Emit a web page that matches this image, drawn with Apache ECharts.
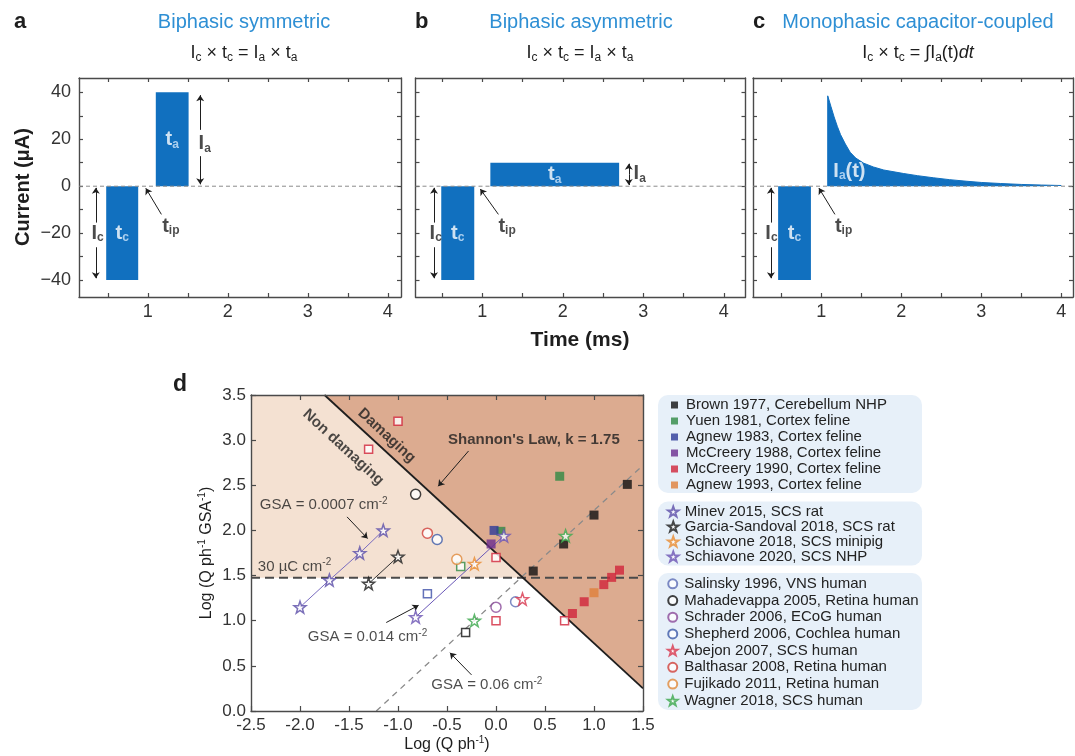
<!DOCTYPE html>
<html>
<head>
<meta charset="utf-8">
<title>Stimulation waveforms and Shannon plot</title>
<script src="https://cdn.jsdelivr.net/npm/echarts@6.0.0/dist/echarts.min.js"></script>
<style>
html, body { margin: 0; padding: 0; background: #fff; }
#chart { width: 1075px; height: 756px; }
</style>
</head>
<body>
<div id="chart"></div>
<script>
const FONT = '"Liberation Sans", Arial, Helvetica, sans-serif';
const PULSE_BLUE = '#1170bf';
const TITLE_BLUE = '#2e8fd4';
const INK = '#1e1e1e';
const AXIS = '#4a4a4a';

// ---------- a–c: pulse waveforms (time in ms, current in µA) ----------
const timeTicks = [0.5, 1, 1.5, 2, 2.5, 3, 3.5, 4];
const timeLabels = [1, 2, 3, 4];
const currentTicks = [-40, -30, -20, -10, 0, 10, 20, 30, 40];
const currentLabels = [-40, -20, 0, 20, 40];

// phases as [start ms, end ms, amplitude µA]
const symCathodic = [0.48, 0.88, -40];
const symAnodic = [1.1, 1.51, 40];
const asymCathodic = [0.49, 0.9, -40];
const asymAnodic = [1.1, 2.7, 10];
const capCathodic = [0.46, 0.87, -40];
// passive capacitor discharge after the interphase gap, [ms, µA]
const capDischarge = [[1.08, 38.5], [1.12, 34], [1.16, 29.5], [1.2, 25.5], [1.24, 22], [1.3, 18], [1.36, 14.5],
  [1.43, 12], [1.53, 9.8], [1.65, 8.2], [1.78, 6.9], [2.03, 5.4], [2.2, 4.5], [2.4, 3.6], [2.6, 2.8],
  [2.82, 2.1], [3.0, 1.6], [3.24, 1.15], [3.5, 0.75], [3.75, 0.5], [4.0, 0.3]];

// ---------- d: Shannon plot, log(Q/ph) vs log(Q/ph/GSA) ----------
const shannonK = 1.75;
const chargeDensityLimit = 30;     // µC cm-2
const gsaReference = 0.06;         // cm2, dashed iso-area line

const brown1977 = [[0.38, 1.55], [0.69, 1.85], [1.0, 2.17], [1.34, 2.51]];
const brown1977Safe = [[-0.31, 0.87]];
const yuen1981 = [[0.05, 1.99], [0.65, 2.6]];
const yuen1981Safe = [[-0.36, 1.6]];
const agnew1983 = [[-0.02, 2.0]];
const agnew1983Safe = [[-0.7, 1.3]];
const mccreery1988 = [[-0.05, 1.85]];
const mccreery1990 = [[0.78, 1.08], [0.9, 1.21], [1.1, 1.4], [1.18, 1.48], [1.26, 1.56]];
const mccreery1990Safe = [[-1.3, 2.9], [-1.0, 3.21], [0.0, 1.7], [0.0, 1.0], [0.7, 1.0]];
const agnew1993 = [[1.0, 1.31]];
const minev2015 = [[-2.0, 1.15], [-1.7, 1.45], [-1.39, 1.75], [-1.15, 2.0]];
const garcia2018 = [[-1.3, 1.41], [-1.0, 1.71]];
const schiavone2018 = [[-0.22, 1.63]];
const schiavone2020 = [[-0.82, 1.04], [0.08, 1.94]];
const salinsky1996 = [[0.2, 1.21]];
const mahadevappa2005 = [[-0.82, 2.4]];
const schrader2006 = [[0.0, 1.15]];
const shepherd2006 = [[-0.6, 1.9]];
const abejon2007 = [[0.27, 1.24]];
const balthasar2008 = [[-0.7, 1.97]];
const fujikado2011 = [[-0.4, 1.68]];
const wagner2018 = [[-0.22, 1.0], [0.71, 1.94]];

const STAR = 'path://M50,0L61.76,33.82L97.55,34.55L69.02,56.18L79.39,90.45L50,70L20.61,90.45L30.98,56.18L2.45,34.55L38.24,33.82Z';
const SQUARE = 'path://M0,0H10V10H0Z';

// ---------- layout ----------
const grids = [
  { left: 79, top: 78, width: 322, height: 219 },
  { left: 415.5, top: 78, width: 330, height: 219 },
  { left: 753, top: 78, width: 320, height: 219 },
  { left: 251, top: 395, width: 392, height: 316 }
];
const timeRanges = [[0.14, 4.165], [0.17, 4.27], [0.146, 4.146]];
const currentRange = [-47.2, 46.1];
const dX = [-2.5, 1.5], dY = [0, 3.5];

const xAxes = [], yAxes = [];
const lineStyleAxis = { color: AXIS, width: 1.4 };
const tickStyle = { color: AXIS, width: 1.2 };
const minus = v => (v < 0 ? '\u2212' + (-v) : String(v));

function pulseFrame(g) {
  const base = { type: 'value', gridIndex: g, z: 5, splitLine: { show: false },
    axisLine: { show: true, onZero: false, lineStyle: lineStyleAxis } };
  const xt = { show: true, inside: true, length: 4, lineStyle: tickStyle, customValues: timeTicks };
  const yt = { show: true, inside: true, length: 4, lineStyle: tickStyle, customValues: currentTicks };
  xAxes.push(Object.assign({}, base, { position: 'bottom', min: timeRanges[g][0], max: timeRanges[g][1], axisTick: xt,
    axisLabel: { show: true, customValues: timeLabels, fontSize: 18, color: '#333', margin: 6, fontFamily: FONT } }));
  xAxes.push(Object.assign({}, base, { position: 'top', min: timeRanges[g][0], max: timeRanges[g][1], axisTick: xt,
    axisLabel: { show: false } }));
  yAxes.push(Object.assign({}, base, { position: 'left', min: currentRange[0], max: currentRange[1], axisTick: yt,
    axisLabel: { show: g === 0, customValues: currentLabels, formatter: minus, fontSize: 18, color: '#333', margin: 8, fontFamily: FONT } }));
  yAxes.push(Object.assign({}, base, { position: 'right', min: currentRange[0], max: currentRange[1], axisTick: yt,
    axisLabel: { show: false } }));
}
[0, 1, 2].forEach(pulseFrame);

(function shannonFrame() {
  const base = { type: 'value', gridIndex: 3, z: 5, splitLine: { show: false }, interval: 0.5,
    axisLine: { show: true, onZero: false, lineStyle: lineStyleAxis },
    axisTick: { show: true, inside: true, length: 5, lineStyle: tickStyle } };
  const lbl = { show: true, fontSize: 17, color: '#333', fontFamily: FONT, formatter: v => v.toFixed(1) };
  xAxes.push(Object.assign({}, base, { position: 'bottom', min: dX[0], max: dX[1], axisLabel: Object.assign({ margin: 6 }, lbl) }));
  xAxes.push(Object.assign({}, base, { position: 'top', min: dX[0], max: dX[1], axisLabel: { show: false } }));
  yAxes.push(Object.assign({}, base, { position: 'left', min: dY[0], max: dY[1], axisLabel: Object.assign({ margin: 5 }, lbl) }));
  yAxes.push(Object.assign({}, base, { position: 'right', min: dY[0], max: dY[1], axisLabel: { show: false } }));
})();

// ---------- rich text styles ----------
const rich = {
  bk: { fontFamily: FONT, fontSize: 20, fontWeight: 'bold', color: INK, lineHeight: 22 },
  bks: { fontFamily: FONT, fontSize: 12, fontWeight: 'bold', color: INK, lineHeight: 10, verticalAlign: 'bottom' },
  wt: { fontFamily: FONT, fontSize: 20, fontWeight: 'bold', color: '#fff', lineHeight: 22 },
  wts: { fontFamily: FONT, fontSize: 12, fontWeight: 'bold', color: '#cfe6fb', lineHeight: 10, verticalAlign: 'bottom' },
  tx: { fontFamily: FONT, fontSize: 15, color: INK, lineHeight: 18 },
  txb: { fontFamily: FONT, fontSize: 15, fontWeight: 'bold', color: INK, lineHeight: 18 },
  sup: { fontFamily: FONT, fontSize: 10, color: INK, lineHeight: 9, verticalAlign: 'top' }
};

function note(x, y, text, align, rotate) {
  const label = { formatter: text, align: align || 'center' };
  if (rotate) label.rotate = rotate;
  return { value: [x, y], label };
}
function arrow(a, b, both, curve) {
  const p = { coord: a, symbol: both ? 'arrow' : 'none' };
  if (curve) p.lineStyle = { curveness: curve };
  return [p, { coord: b, symbol: 'arrow' }];
}
function annotations(g, notes, arrows) {
  return {
    type: 'scatter', xAxisIndex: 2 * g, yAxisIndex: 2 * g, silent: true, z: 10,
    symbolSize: 1, itemStyle: { color: 'rgba(0,0,0,0)' },
    label: { show: true, position: 'inside', verticalAlign: 'middle', rich },
    data: notes,
    markLine: { silent: true, animation: false, symbol: ['none', 'arrow'], symbolSize: 6,
      label: { show: false }, lineStyle: { color: INK, width: 1, type: 'solid' }, data: arrows }
  };
}
function phase(g, p) {
  return { type: 'line', xAxisIndex: 2 * g, yAxisIndex: 2 * g, silent: true, symbol: 'none', z: 3,
    lineStyle: { width: 0 }, areaStyle: { color: PULSE_BLUE, opacity: 1 },
    data: [[p[0], 0], [p[0], p[2]], [p[1], p[2]], [p[1], 0]] };
}
function zeroLine(g) {
  return { type: 'line', xAxisIndex: 2 * g, yAxisIndex: 2 * g, silent: true, symbol: 'none', z: 6,
    lineStyle: { color: '#8c8c8c', width: 1, type: [4, 3] },
    data: [[timeRanges[g][0], 0], [timeRanges[g][1], 0]] };
}

const series = [];
// a: biphasic symmetric
series.push(phase(0, symCathodic), phase(0, symAnodic), zeroLine(0));
series.push(annotations(0, [
  note(0.295, -20, '{bk|I}{bks|c}', 'left'),
  note(0.68, -20, '{wt|t}{wts|c}'),
  note(1.305, 20, '{wt|t}{wts|a}'),
  note(1.635, 18, '{bk|I}{bks|a}', 'left'),
  note(1.18, -17, '{bk|t}{bks|ip}', 'left')
], [
  arrow([0.35, -15.5], [0.35, -0.7]), arrow([0.35, -26], [0.35, -39.2]),
  arrow([1.655, 24], [1.655, 38.8]), arrow([1.655, 12.8], [1.655, 0.8]),
  arrow([1.17, -12], [0.975, -0.9])
]));
// b: biphasic asymmetric
series.push(phase(1, asymCathodic), phase(1, asymAnodic), zeroLine(1));
series.push(annotations(1, [
  note(0.345, -20, '{bk|I}{bks|c}', 'left'),
  note(0.695, -20, '{wt|t}{wts|c}'),
  note(1.9, 5, '{wt|t}{wts|a}'),
  note(2.88, 5.5, '{bk|I}{bks|a}', 'left'),
  note(1.2, -17, '{bk|t}{bks|ip}', 'left')
], [
  arrow([0.4, -15.5], [0.4, -0.7]), arrow([0.4, -26], [0.4, -39.2]),
  arrow([2.82, 5], [2.82, 9.6]), arrow([2.82, 5], [2.82, 0.5]),
  arrow([1.2, -12], [0.975, -1.2])
]));
// c: monophasic capacitor-coupled
series.push(phase(2, capCathodic), zeroLine(2));
series.push({ type: 'line', xAxisIndex: 4, yAxisIndex: 4, silent: true, symbol: 'none', z: 3,
  lineStyle: { width: 1, color: PULSE_BLUE }, areaStyle: { color: PULSE_BLUE, opacity: 1 },
  data: [[capDischarge[0][0], 0]].concat(capDischarge, [[capDischarge[capDischarge.length - 1][0], 0]]) });
series.push(annotations(2, [
  note(0.3, -20, '{bk|I}{bks|c}', 'left'),
  note(0.665, -20, '{wt|t}{wts|c}'),
  note(1.15, 6.4, '{wt|I}{wts|a}{wt|(t)}', 'left'),
  note(1.17, -17, '{bk|t}{bks|ip}', 'left')
], [
  arrow([0.37, -15.5], [0.37, -0.7]), arrow([0.37, -26], [0.37, -39.2]),
  arrow([1.17, -12], [0.97, -0.8])
]));

// d: damage regions
const limitY = Math.log10(chargeDensityLimit);
const darkRegion = [[shannonK - dY[1], dY[1]], [dX[1], dY[1]], [dX[1], shannonK - dX[1]]];
const lightRegion = [[dX[0], limitY], [dX[0], dY[1]], [shannonK - dY[1], dY[1]], [shannonK - limitY, limitY]];
function region(poly, fill) {
  return { type: 'custom', xAxisIndex: 6, yAxisIndex: 6, silent: true, z: 0, data: [[0, 0]],
    renderItem: (params, api) => ({ type: 'polygon', shape: { points: poly.map(p => api.coord(p)) }, style: { fill } }) };
}
function guide(data, color, width, type, z) {
  return { type: 'line', xAxisIndex: 6, yAxisIndex: 6, silent: true, symbol: 'none', z: z || 1,
    lineStyle: { color, width, type }, data };
}
series.push(region(lightRegion, '#f4e1d2'), region(darkRegion, '#dcab90'));
const gsaOffset = -Math.log10(gsaReference);
series.push(guide([[-gsaOffset, 0], [dX[1], dX[1] + gsaOffset]], '#8a8a8a', 1.3, [6, 5]));
series.push(guide([[dX[0], limitY], [dX[1], limitY]], '#4a4a4a', 2, [9, 5]));
series.push(guide([[shannonK - dY[1], dY[1]], [dX[1], shannonK - dX[1]]], '#1e1e1e', 1.8, 'solid', 2));
series.push(guide(minev2015, '#7a6cc0', 1, 'solid'));
series.push(guide(garcia2018, '#333', 1, 'solid'));
series.push(guide(schiavone2020, '#6a58b8', 1, 'solid'));

function points(name, data, symbol, color, open, size, z) {
  return { type: 'scatter', name, xAxisIndex: 6, yAxisIndex: 6, silent: true, data, symbol, symbolSize: size,
    z: z || 4,
    itemStyle: open ? { color: '#fff', borderColor: color, borderWidth: 1.5 } : { color, borderWidth: 0 } };
}
const SQ = 9, CI = 10, ST = 12;
series.push(
  points('Brown 1977, Cerebellum NHP', brown1977, SQUARE, '#111111', false, SQ),
  points('Brown 1977 (no damage)', brown1977Safe, 'rect', '#111111', true, SQ - 1),
  points('Yuen 1981, Cortex feline', yuen1981, SQUARE, '#2f8a43', false, SQ),
  points('Yuen 1981 (no damage)', yuen1981Safe, 'rect', '#2f8a43', true, SQ - 1),
  points('Agnew 1983, Cortex feline', agnew1983, SQUARE, '#2e3b98', false, SQ),
  points('Agnew 1983 (no damage)', agnew1983Safe, 'rect', '#3d4fa8', true, SQ - 1),
  points('McCreery 1988, Cortex feline', mccreery1988, SQUARE, '#6b2d8f', false, SQ),
  points('McCreery 1990, Cortex feline', mccreery1990, SQUARE, '#d1243a', false, SQ),
  points('McCreery 1990 (no damage)', mccreery1990Safe, 'rect', '#d1243a', true, SQ - 1),
  points('Agnew 1993, Cortex feline', agnew1993, SQUARE, '#e07f3a', false, SQ),
  points('Salinsky 1996, VNS human', salinsky1996, 'circle', '#5d6db5', true, CI, 5),
  points('Mahadevappa 2005, Retina human', mahadevappa2005, 'circle', '#111111', true, CI, 5),
  points('Schrader 2006, ECoG human', schrader2006, 'circle', '#8a4a9a', true, CI, 5),
  points('Shepherd 2006, Cochlea human', shepherd2006, 'circle', '#3c5aa8', true, CI, 5),
  points('Balthasar 2008, Retina human', balthasar2008, 'circle', '#d0403a', true, CI, 5),
  points('Fujikado 2011, Retina human', fujikado2011, 'circle', '#e0883a', true, CI, 5),
  points('Minev 2015, SCS rat', minev2015, STAR, '#5a4ca8', true, ST, 6),
  points('Garcia-Sandoval 2018, SCS rat', garcia2018, STAR, '#1a1a1a', true, ST, 6),
  points('Schiavone 2018, SCS minipig', schiavone2018, STAR, '#e88a2e', true, ST, 6),
  points('Schiavone 2020, SCS NHP', schiavone2020, STAR, '#6a52b3', true, ST, 6),
  points('Abejon 2007, SCS human', abejon2007, STAR, '#d8364c', true, ST, 6),
  points('Wagner 2018, SCS human', wagner2018, STAR, '#3aa64a', true, ST, 6)
);

series.push(annotations(3, [
  note(-1.115, 3.05, '{txb|Damaging}', 'center', -42.7),
  note(-1.558, 2.92, '{txb|Non damaging}', 'center', -42.7),
  note(-0.49, 3.0, "{txb|Shannon's Law, k = " + shannonK.toFixed(2) + '}', 'left'),
  note(-2.41, 2.28, '{tx|GSA = 0.0007 cm}{sup|-2}', 'left'),
  note(-2.43, 1.6, '{tx|' + chargeDensityLimit + ' µC cm}{sup|-2}', 'left'),
  note(-1.92, 0.82, '{tx|GSA = 0.014 cm}{sup|-2}', 'left'),
  note(-0.66, 0.29, '{tx|GSA = ' + gsaReference + ' cm}{sup|-2}', 'left')
], [
  arrow([-0.28, 2.88], [-0.59, 2.49]),
  arrow([-1.52, 2.15], [-1.31, 1.91]),
  arrow([-1.12, 0.98], [-0.79, 1.17], false, 0.8),
  arrow([-0.25, 0.4], [-0.47, 0.645])
]));

// ---------- legends ----------
const legendText = { fontSize: 15, color: '#222', fontFamily: FONT };
function legendBlock(names, left, top, lh, ih, extra) {
  return Object.assign({ orient: 'vertical', left, top, padding: 0, itemGap: 0, itemWidth: 13, itemHeight: ih,
    selectedMode: false, symbolKeepAspect: true, textStyle: Object.assign({ lineHeight: lh }, legendText), data: names }, extra || {});
}
const legends = [
  legendBlock(['Brown 1977, Cerebellum NHP', 'Yuen 1981, Cortex feline', 'Agnew 1983, Cortex feline',
    'McCreery 1988, Cortex feline', 'McCreery 1990, Cortex feline', 'Agnew 1993, Cortex feline'], 671, 397, 16, 7,
    { itemStyle: { borderWidth: 0 } }),
  legendBlock(['Minev 2015, SCS rat', 'Garcia-Sandoval 2018, SCS rat', 'Schiavone 2018, SCS minipig',
    'Schiavone 2020, SCS NHP'], 667, 504, 15, 10),
  legendBlock(['Salinsky 1996, VNS human', 'Mahadevappa 2005, Retina human', 'Schrader 2006, ECoG human',
    'Shepherd 2006, Cochlea human', 'Abejon 2007, SCS human', 'Balthasar 2008, Retina human',
    'Fujikado 2011, Retina human', 'Wagner 2018, SCS human'], 667, 575.5, 16.7, 9)
];

// ---------- titles, axis names, legend boxes ----------
function txt(x, y, text, opts) {
  const s = Object.assign({ text, x: 0, y: 0, fontFamily: FONT, fontSize: 18, fill: INK,
    align: 'center', verticalAlign: 'middle', textAlign: 'center', textVerticalAlign: 'middle' }, opts && opts.style);
  return Object.assign({ type: 'text', x, y, silent: true, z: 20, style: s }, opts && opts.el);
}
const formulaRich = {
  f: { fontFamily: FONT, fontSize: 18, color: INK, lineHeight: 22 },
  fs: { fontFamily: FONT, fontSize: 12, color: INK, lineHeight: 9, verticalAlign: 'bottom' },
  fi: { fontFamily: FONT, fontSize: 18, color: INK, lineHeight: 22, fontStyle: 'italic' }
};
const nameRich = {
  n: { fontFamily: FONT, fontSize: 16, color: INK, lineHeight: 20 },
  np: { fontFamily: FONT, fontSize: 10, color: INK, lineHeight: 10, verticalAlign: 'top' }
};
const chargeFormula = '{f|I}{fs|c}{f| × t}{fs|c}{f| = I}{fs|a}{f| × t}{fs|a}';
const graphic = [
  { type: 'rect', silent: true, z: -10, shape: { x: 658, y: 395, width: 264, height: 98, r: 10 }, style: { fill: '#e7f0f9' } },
  { type: 'rect', silent: true, z: -10, shape: { x: 658, y: 501.5, width: 264, height: 64, r: 10 }, style: { fill: '#e7f0f9' } },
  { type: 'rect', silent: true, z: -10, shape: { x: 658, y: 573, width: 264, height: 137, r: 10 }, style: { fill: '#e7f0f9' } },
  txt(14, 22, 'a', { style: { fontSize: 22, fontWeight: 'bold', align: 'left', textAlign: 'left' } }),
  txt(415, 22, 'b', { style: { fontSize: 22, fontWeight: 'bold', align: 'left', textAlign: 'left' } }),
  txt(753, 22, 'c', { style: { fontSize: 22, fontWeight: 'bold', align: 'left', textAlign: 'left' } }),
  txt(173, 385, 'd', { style: { fontSize: 23, fontWeight: 'bold', align: 'left', textAlign: 'left' } }),
  txt(244, 22, 'Biphasic symmetric', { style: { fontSize: 20, fill: TITLE_BLUE } }),
  txt(581, 22, 'Biphasic asymmetric', { style: { fontSize: 20, fill: TITLE_BLUE } }),
  txt(918, 22, 'Monophasic capacitor-coupled', { style: { fontSize: 20, fill: TITLE_BLUE } }),
  txt(244, 53, chargeFormula, { style: { rich: formulaRich } }),
  txt(580, 53, chargeFormula, { style: { rich: formulaRich } }),
  txt(918, 53, '{f|I}{fs|c}{f| × t}{fs|c}{f| = ∫I}{fs|a}{f|(t)}{fi|dt}', { style: { rich: formulaRich } }),
  txt(23, 187, 'Current (μA)', { style: { fontSize: 20, fontWeight: 'bold' }, el: { rotation: Math.PI / 2 } }),
  txt(580, 340, 'Time (ms)', { style: { fontSize: 21, fontWeight: 'bold' } }),
  txt(447, 745, '{n|Log (Q ph}{np|-1}{n|)}', { style: { rich: nameRich } }),
  txt(207, 553, '{n|Log (Q ph}{np|-1}{n| GSA}{np|-1}{n|)}', { style: { rich: nameRich }, el: { rotation: Math.PI / 2 } })
];

const chart = echarts.init(document.getElementById('chart'), null, { renderer: 'canvas' });
chart.setOption({
  animation: false,
  backgroundColor: '#fff',
  textStyle: { fontFamily: FONT },
  grid: grids,
  xAxis: xAxes,
  yAxis: yAxes,
  legend: legends,
  graphic,
  series
});
</script>
</body>
</html>
